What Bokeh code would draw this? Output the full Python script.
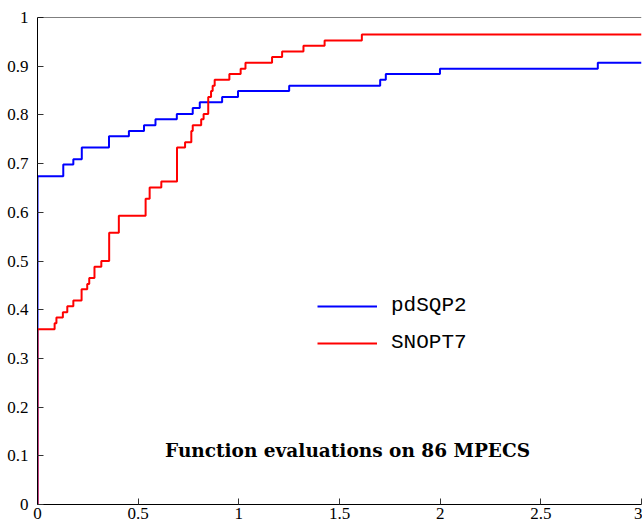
from bokeh.plotting import figure
from bokeh.models import Range1d, FixedTicker, Legend, LegendItem, Label, Span
from bokeh.embed import file_html
from bokeh.resources import INLINE

# ---- data (performance profile, 86 problems) ----
pdsqp2_x = [0, 0, 0.128, 0.178, 0.220, 0.355, 0.454, 0.529, 0.586, 0.692, 0.771,
            0.806, 0.917, 0.996, 1.250, 1.702, 1.730, 1.999, 2.783, 3.0]
pdsqp2_y = [0, 0.674, 0.698, 0.709, 0.733, 0.756, 0.767, 0.779, 0.791, 0.802, 0.814,
            0.826, 0.837, 0.849, 0.860, 0.872, 0.884, 0.895, 0.907, 0.907]

snopt7_x = [0, 0, 0.085, 0.094, 0.126, 0.148, 0.178, 0.219, 0.247, 0.257, 0.283,
            0.317, 0.356, 0.404, 0.537, 0.557, 0.615, 0.693, 0.733, 0.764, 0.771,
            0.813, 0.825, 0.848, 0.862, 0.870, 0.880, 0.953, 1.009, 1.033, 1.165,
            1.215, 1.321, 1.426, 1.611, 3.0]
snopt7_y = [0, 0.360, 0.372, 0.384, 0.395, 0.407, 0.419, 0.442, 0.453, 0.465, 0.488,
            0.500, 0.558, 0.593, 0.628, 0.651, 0.663, 0.733, 0.744, 0.767, 0.779,
            0.791, 0.802, 0.837, 0.849, 0.860, 0.872, 0.884, 0.895, 0.907, 0.919,
            0.930, 0.942, 0.953, 0.965, 0.965]

series_names = ["pdSQP2", "SNOPT7"]
chart_title = "Function evaluations on 86 MPECS"

x_ticks = [0, 0.5, 1, 1.5, 2, 2.5, 3]
x_tick_labels = ["0", "0.5", "1", "1.5", "2", "2.5", "3"]
y_ticks = [0, 0.1, 0.2, 0.3, 0.4, 0.5, 0.6, 0.7, 0.8, 0.9, 1]
y_tick_labels = ["0", "0.1", "0.2", "0.3", "0.4", "0.5", "0.6", "0.7", "0.8", "0.9", "1"]

# ---- figure ----
p = figure(width=642, height=525, output_backend="svg", toolbar_location=None,
           x_range=Range1d(0, 3), y_range=Range1d(0, 1),
           min_border_left=37, min_border_right=1, min_border_top=17, min_border_bottom=21)
p.outline_line_color = None
p.grid.visible = False
p.background_fill_color = "white"
p.border_fill_color = "white"

serif = "Liberation Serif"
for ax in (p.xaxis[0], p.yaxis[0]):
    ax.axis_line_color = "black"
    ax.axis_line_width = 1
    ax.major_tick_in = 6
    ax.major_tick_out = 0
    ax.minor_tick_line_color = None
    ax.major_tick_line_color = "#333333"
    ax.major_label_text_font = serif
    ax.major_label_text_font_size = "17px"
    ax.major_label_text_color = "black"

p.xaxis.ticker = FixedTicker(ticks=x_ticks)
p.yaxis.ticker = FixedTicker(ticks=y_ticks)
p.xaxis.major_label_overrides = dict(zip(x_ticks, x_tick_labels))
p.yaxis.major_label_overrides = dict(zip(y_ticks, y_tick_labels))
p.xaxis.major_label_standoff = 3
p.yaxis.major_label_standoff = 9

# top frame line
p.add_layout(Span(location=1, dimension="width", line_color="black", line_width=1))

r_blue = p.step(pdsqp2_x, pdsqp2_y, mode="after", line_color="#0000ff", line_width=2)
r_red = p.step(snopt7_x, snopt7_y, mode="after", line_color="#ff0000", line_width=2)

legend = Legend(items=[LegendItem(label=series_names[0], renderers=[r_blue]),
                       LegendItem(label=series_names[1], renderers=[r_red])],
                location=(280, 150), glyph_width=60, glyph_height=20, label_height=20,
                spacing=14, padding=0, margin=0, label_standoff=14,
                label_text_font="Liberation Mono", label_text_font_size="21px",
                label_text_color="black",
                background_fill_alpha=0, border_line_alpha=0)
p.add_layout(legend)

p.add_layout(Label(x=1.54, y=0.11, text=chart_title, text_align="center",
                   text_baseline="middle", text_font="DejaVu Serif",
                   text_font_style="bold", text_font_size="18.5px", text_color="black"))

open("out.html", "w").write(file_html(p, INLINE))
